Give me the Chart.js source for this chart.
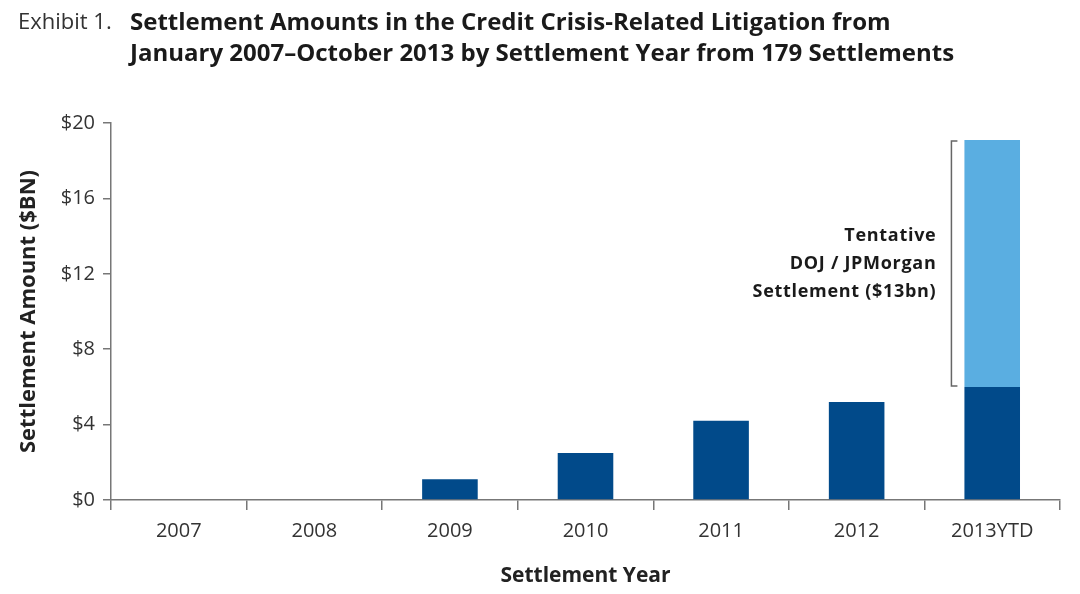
<!DOCTYPE html>
<html>
<head>
<meta charset="utf-8">
<script src="https://cdn.jsdelivr.net/npm/chart.js@4.4.0/dist/chart.umd.min.js"></script>
<style>
  html, body { margin:0; padding:0; background:#fff; }
  #wrap { position:relative; width:1080px; height:594px; }
  #title { position:absolute; left:18px; top:5px; font-family:"Open Sans","Noto Sans",sans-serif; font-size:24px; line-height:31px; color:#1a1a1a; }
  #title .ex { position:absolute; left:0; top:0; font-weight:400; color:#333; white-space:nowrap; font-size:22px; }
  #title .main { position:absolute; left:112px; top:0; font-weight:700; white-space:nowrap; }
  canvas { position:absolute; left:0; top:0; }
</style>
</head>
<body>
<div id="wrap">
  <canvas id="c" width="1080" height="594"></canvas>
  <div id="title"><span class="ex">Exhibit 1.</span><span class="main">Settlement Amounts in the Credit Crisis-Related Litigation from<br>January 2007–October 2013 by Settlement Year from 179 Settlements</span></div>
</div>
<script>
const categories = ["2007", "2008", "2009", "2010", "2011", "2012", "2013YTD"];
const settledValues = [0, 0, 1.1, 2.5, 4.2, 5.2, 6.0];
const tentativeValues = [0, 0, 0, 0, 0, 0, 13.1];
const yTicks = [0, 4, 8, 12, 16, 20];
const annotationLines = ["Tentative", "DOJ / JPMorgan", "Settlement ($13bn)"];

const FONT = '"Open Sans","Noto Sans",sans-serif';

const bracketPlugin = {
  id: 'bracket',
  afterDatasetsDraw(chart) {
    const ctx = chart.ctx;
    const y = chart.scales.y;
    const meta = chart.getDatasetMeta(1);
    const bar = meta.data[6];
    const left = bar.x - bar.width / 2;
    const bx = left - 13;
    const yBot = y.getPixelForValue(settledValues[6]);
    const yTop = y.getPixelForValue(settledValues[6] + tentativeValues[6]);
    ctx.save();
    ctx.strokeStyle = '#666';
    ctx.lineWidth = 1.5;
    ctx.beginPath();
    ctx.moveTo(bx + 6, yTop + 1);
    ctx.lineTo(bx, yTop + 1);
    ctx.lineTo(bx, yBot - 1);
    ctx.lineTo(bx + 6, yBot - 1);
    ctx.stroke();
    ctx.fillStyle = '#1a1a1a';
    ctx.font = '700 18px ' + FONT;
    try { ctx.letterSpacing = '0.7px'; } catch (e) {}
    ctx.textAlign = 'right';
    ctx.textBaseline = 'middle';
    const mid = (yTop + yBot) / 2;
    const lh = 28;
    annotationLines.forEach((t, i) => {
      ctx.fillText(t, bx - 15, mid + (i - 1) * lh);
    });
    ctx.restore();
  }
};

new Chart(document.getElementById('c'), {
  type: 'bar',
  data: {
    labels: categories,
    datasets: [
      { label: 'Settled', data: settledValues, backgroundColor: '#014a8a', stack: 's', barPercentage: 0.41, categoryPercentage: 1.0 },
      { label: 'Tentative', data: tentativeValues, backgroundColor: '#5aaee1', stack: 's', barPercentage: 0.41, categoryPercentage: 1.0 }
    ]
  },
  options: {
    responsive: false,
    animation: false,
    layout: { padding: { top: 123, right: 20, left: 0, bottom: 0 } },
    plugins: { legend: { display: false }, tooltip: { enabled: false }, title: { display: false } },
    scales: {
      x: {
        stacked: true,
        grid: { display: true, drawOnChartArea: false, drawTicks: true, tickLength: 10, color: '#777', lineWidth: 1.5, offset: true },
        border: { display: true, color: '#777', width: 1.5 },
        ticks: { color: '#333', font: { family: FONT, size: 20 }, padding: 9 },
        title: { display: true, text: 'Settlement Year', color: '#222', font: { family: FONT, size: 21, weight: 'bold' }, padding: { top: 10, bottom: 5 } },
        afterFit(s) { s.height = 94; }
      },
      y: {
        stacked: true,
        min: 0, max: 20,
        afterBuildTicks(s) { s.ticks = yTicks.map(v => ({ value: v })); },
        grid: { display: true, drawOnChartArea: false, drawTicks: true, tickLength: 8, color: '#777', lineWidth: 1.5 },
        border: { display: true, color: '#777', width: 1.5 },
        ticks: { color: '#333', font: { family: FONT, size: 20 }, padding: 8, callback: v => '$' + v },
        title: { display: true, text: 'Settlement Amount ($BN)', color: '#222', font: { family: FONT, size: 22, weight: 'bold' }, padding: { top: 16, bottom: 4 } },
        afterFit(s) { s.width = 111; }
      }
    }
  },
  plugins: [bracketPlugin]
});
</script>
</body>
</html>
